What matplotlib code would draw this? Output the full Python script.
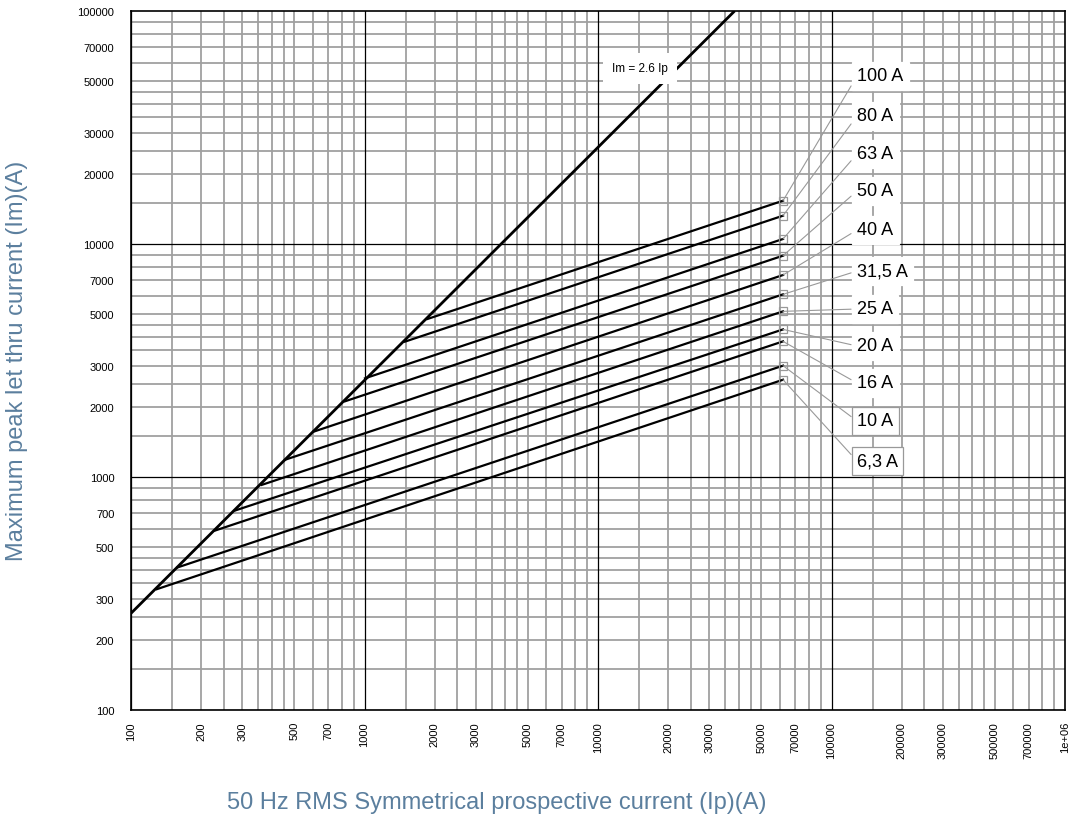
import matplotlib
matplotlib.use("Agg")
import matplotlib.pyplot as plt
import numpy as np

plt.rcParams['font.family'] = ['Liberation Sans', 'DejaVu Sans']

# fuse ratings, top line first
ratings = ['100 A', '80 A', '63 A', '50 A', '40 A', '31,5 A', '25 A', '20 A', '16 A', '10 A', '6,3 A']
start_ip = [1858, 1490, 1005, 825, 604, 457, 363, 279, 229, 158, 129]
start_im = [4764, 3810, 2652, 2113, 1564, 1186, 925, 718, 589, 409, 330]
end_ip = [62000] * 11
end_im = [15340, 13230, 10510, 8910, 7360, 6080, 5140, 4300, 3820, 3005, 2615]

# Im = 2.6 Ip line
diag_ip = [100, 38500]
diag_im = [260, 100100]

x_ticks = [100, 200, 300, 500, 700, 1000, 2000, 3000, 5000, 7000, 10000, 20000, 30000,
           50000, 70000, 100000, 200000, 300000, 500000, 700000, 1000000]
x_ticklabels = ['100', '200', '300', '500', '700', '1000', '2000', '3000', '5000', '7000',
                '10000', '20000', '30000', '50000', '70000', '100000', '200000', '300000',
                '500000', '700000', '1e+06']
y_ticks = [100, 200, 300, 500, 700, 1000, 2000, 3000, 5000, 7000, 10000, 20000, 30000,
           50000, 70000, 100000]
y_ticklabels = [str(v) for v in y_ticks]
grid_mult = [1.5, 2, 2.5, 3, 3.5, 4, 4.5, 5, 6, 7, 8, 9]

blue = '#5b7f9e'
grey = '#a0a0a0'

fig = plt.figure(figsize=(10.7, 8.2), dpi=100)
ax = fig.add_axes([131 / 1070, 1 - 711 / 820, (1065 - 131) / 1070, (711 - 12) / 820])
ax.set_xscale('log')
ax.set_yscale('log')
ax.set_xlim(100, 1e6)
ax.set_ylim(100, 1e5)

# grid
for dec in [100, 1000, 10000, 100000]:
    for m in grid_mult:
        ax.axvline(dec * m, color=grey, lw=1.3, zorder=1)
    ax.axvline(dec, color='black', lw=0.9, zorder=1.5)
for dec in [100, 1000, 10000]:
    for m in grid_mult:
        ax.axhline(dec * m, color=grey, lw=1.3, zorder=1)
    ax.axhline(dec, color='black', lw=0.9, zorder=1.5)

ax.set_xticks(x_ticks)
ax.set_xticklabels(x_ticklabels, rotation=90, fontsize=8)
ax.set_yticks(y_ticks)
ax.set_yticklabels(y_ticklabels, fontsize=8)
ax.minorticks_off()
ax.tick_params(axis='x', length=0, pad=8)
ax.tick_params(axis='y', length=0, pad=12)
for s in ax.spines.values():
    s.set_linewidth(1.2)
    s.set_zorder(5)

ax.plot(diag_ip, diag_im, color='black', lw=2.0, zorder=3, solid_capstyle='butt')
ax.text(15140, 56900, 'Im = 2.6 Ip', fontsize=8.5, ha='center', va='center', zorder=4,
        bbox=dict(boxstyle='square,pad=0.8', fc='white', ec='none'))

label_y = [75, 115, 153, 190, 229, 270, 308, 345, 382, 420, 460]
for i, r in enumerate(ratings):
    ax.plot([start_ip[i], end_ip[i]], [start_im[i], end_im[i]], color='black', lw=1.6, zorder=3)
    ax.plot(end_ip[i], end_im[i], 's', ms=5.5, mfc='none', mec='#999999', mew=0.9, zorder=4)
    ec = '#999999' if r in ('10 A', '6,3 A') else 'white'
    ax.annotate(r, xy=(end_ip[i], end_im[i]), xycoords='data',
                xytext=(857, 820 - label_y[i] - 2), textcoords='figure pixels',
                fontsize=13, ha='left', va='center', zorder=4,
                bbox=dict(boxstyle='square,pad=0.3', fc='white', ec=ec, lw=0.9),
                arrowprops=dict(arrowstyle='-', color='#999999', lw=0.8,
                                relpos=(0, 0.5), shrinkA=0, shrinkB=0))

fig.text(17 / 1070, 1 - 361 / 820, 'Maximum peak let thru current (Im)(A)', rotation=90,
         ha='center', va='center', fontsize=17, color=blue)
fig.text(497 / 1070, 1 - 803 / 820, '50 Hz RMS Symmetrical prospective current (Ip)(A)',
         ha='center', va='center', fontsize=17, color=blue)

fig.savefig('out.png', dpi=100)
